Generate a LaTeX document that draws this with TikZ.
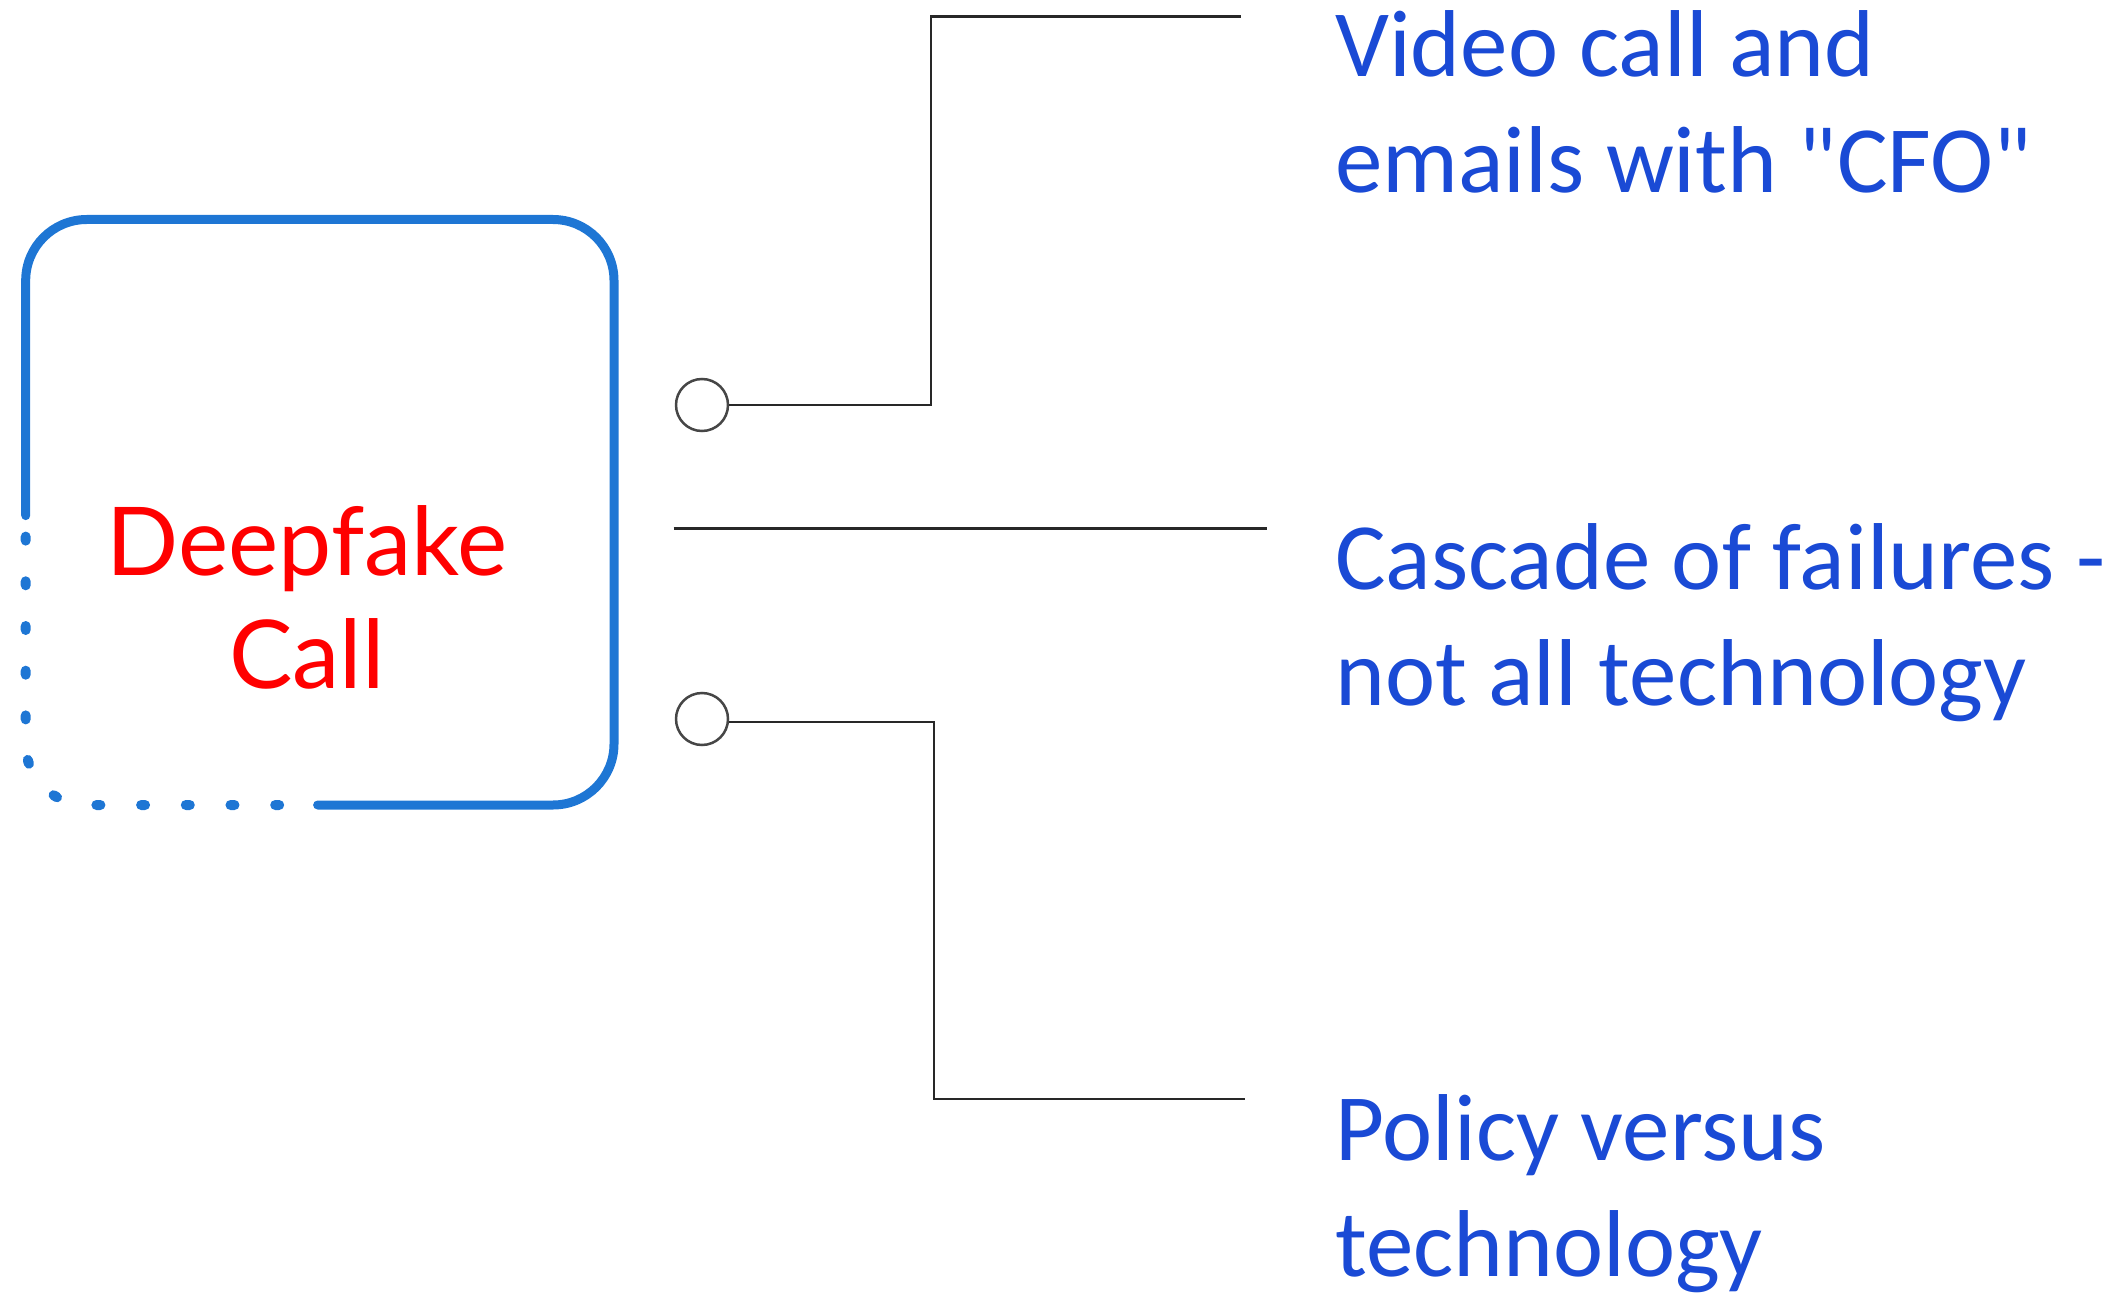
\documentclass[tikz,border=0pt]{standalone}
\usepackage{fontspec}
\newfontfamily\carlfont{Carlito}
\newfontfamily\latofont{Lato}
\definecolor{boxblue}{RGB}{30,118,212}
\definecolor{textblue}{RGB}{26,74,213}
\definecolor{hotred}{RGB}{255,0,0}
\definecolor{conn}{RGB}{40,40,40}
\definecolor{ring}{RGB}{70,70,70}
\tikzset{
  lbl/.style={font=\carlfont\fontsize{95}{116}\selectfont, text=textblue, align=left, inner sep=0pt, anchor=base west},
  title/.style={font=\latofont\fontsize{95}{113.5}\selectfont, text=hotred, align=center, inner sep=0pt, anchor=base},
  ringnode/.style={circle, draw=ring, line width=2.5pt, minimum size=52pt, inner sep=0pt, fill=white},
  connline/.style={draw=conn, line width=2.5pt},
  solidedge/.style={draw=boxblue, line width=9pt, line cap=round, rounded corners=61pt},
  dotedge/.style={draw=boxblue, line width=10pt, line cap=round, rounded corners=61pt, dash pattern=on 4pt off 40.7pt, dash phase=23.7pt}
}
\begin{document}
\begin{tikzpicture}[x=1pt,y=-1pt]
\useasboundingbox (0,0) rectangle (2125,1297);
% main box
\coordinate (bA) at (25.7,515.6);
\coordinate (bTL) at (25.7,219.5);
\coordinate (bTR) at (614,219.5);
\coordinate (bBR) at (614,805);
\coordinate (bBL) at (25.7,805);
\coordinate (bB) at (317.6,805);
\path[solidedge] (bA) -- (bTL) -- (bTR) -- (bBR) -- (bB);
\path[dotedge] (bA) -- (bBL) -- (bB);
\node[title] (deep) at (307,688.5) {Deepfake\\Call};
% rings
\node[ringnode] (c1) at (702,405) {};
\node[ringnode] (c2) at (702,719) {};
% connector coordinates
\coordinate (k1) at (931,405);
\coordinate (e1) at (1241,16.3);
\coordinate (k2) at (934,722);
\coordinate (e2) at (1245,1099);
\coordinate (m1) at (673.6,528.6);
\coordinate (m2) at (1267,528.6);
\draw[connline] (c1.east) -- (k1) |- (e1);
\draw[connline] (c2.east |- k2) -- (k2) |- (e2);
\draw[connline] (m1) -- (m2);
% labels
\node[lbl] (t1) at (1335,192.7) {Video call and\\emails with "CFO"};
\node[lbl] (t2) at (1335,705) {Cascade of failures -\\not all technology};
\node[lbl] (t3) at (1335,1276) {Policy versus\\technology};
\end{tikzpicture}
\end{document}
